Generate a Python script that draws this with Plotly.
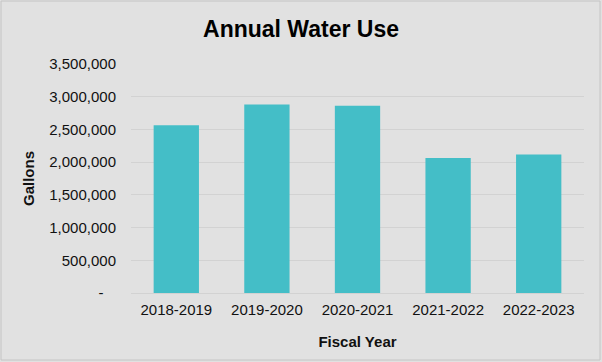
import plotly.graph_objects as go

categories = ["2018-2019", "2019-2020", "2020-2021", "2021-2022", "2022-2023"]
gallons = [2565000, 2880000, 2860000, 2065000, 2115000]
tick_values = [0, 500000, 1000000, 1500000, 2000000, 2500000, 3000000, 3500000]
tick_labels = ["-\u00a0\u00a0\u00a0", "500,000", "1,000,000", "1,500,000", "2,000,000", "2,500,000", "3,000,000", "3,500,000"]

fig = go.Figure(go.Bar(
    x=categories, y=gallons,
    marker=dict(color="#44bec7", line=dict(width=0)),
))

L, R, T, B = 131, 18, 64, 69
fig.update_layout(
    width=602, height=362,
    paper_bgcolor="#e1e1e1", plot_bgcolor="#e1e1e1",
    font=dict(family="Liberation Sans, Arial, sans-serif", color="#111111", size=15),
    title=dict(text="<b>Annual Water Use</b>", x=0.5, xanchor="center", y=1 - 29 / 362, yanchor="middle",
               font=dict(size=23, color="#000000")),
    margin=dict(l=L, r=R, t=T, b=B, autoexpand=False),
    bargap=0.5,
    showlegend=False,
    xaxis=dict(
        showgrid=False, zeroline=False, showline=True, linecolor="#d2d2d2", linewidth=1,
        ticks="", ticklabelstandoff=3,
        title=dict(text="<b>Fiscal Year</b>", font=dict(size=15), standoff=19),
    ),
    yaxis=dict(
        range=[0, 3500000], tickvals=tick_values, ticktext=tick_labels,
        showgrid=True, gridcolor="#d2d2d2", gridwidth=1, zeroline=False,
        ticks="", ticklabelstandoff=14,
        title=dict(text="<b>Gallons</b>", font=dict(size=15), standoff=11),
    ),
)

pw = 602 - L - R
ph = 362 - T - B
fig.add_shape(type="rect", xref="paper", yref="paper",
              x0=-(L - 1) / pw, x1=1 + (R - 2) / pw, y0=-(B - 2) / ph, y1=1 + (T - 1) / ph,
              line=dict(color="#c4c4c4", width=1), layer="below")

fig.write_html("out.html", config={"displayModeBar": False},
               post_script="document.body.style.margin='0';document.body.style.overflow='hidden';")
